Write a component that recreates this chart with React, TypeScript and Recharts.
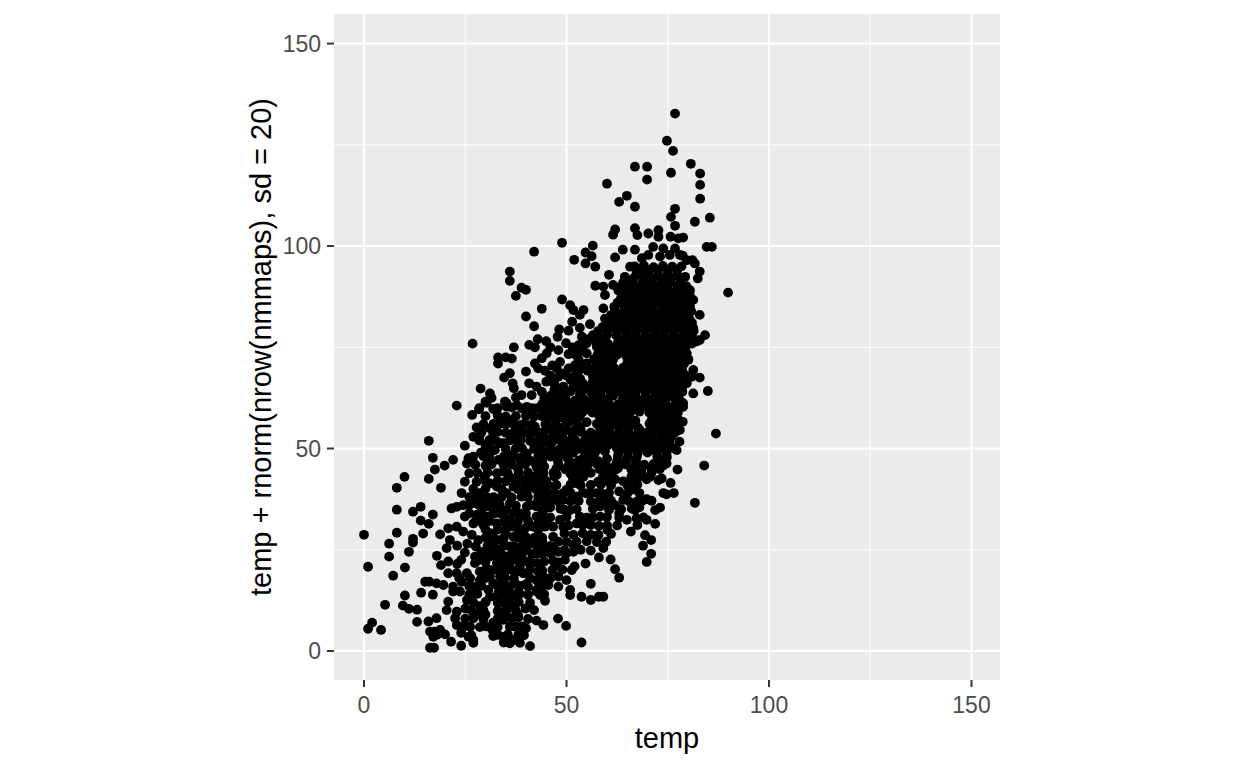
import React from 'react';
import {
  ScatterChart,
  Scatter,
  XAxis,
  YAxis,
  CartesianGrid,
} from 'recharts';

type Pair = [number, number];

const majorTicks = [0, 50, 100, 150];
const minorTicks = [25, 75, 125];

// as [temp, value], left tail first
const leftTail: Pair[] = [
  [22.9,60.6],[16,51.9],[24.9,50.7],[17,47.7],[22,47.2],[19.9,45.8],[17.5,44.8],[16,42.5],[10,43],[8.1,40.3],
  [19,40.3],[8.1,34.9],[12.1,34.4],[14,35.6],[17,33.7],[14,32.2],[16,31.4],[8.1,29.2],[0,28.7],[14.6,29],
  [12.1,27.7],[12.1,26.8],[6.2,26.5],[11.1,24.5],[6.2,23.3],[18,23.5],[1,20.8],[10.1,20.6],[7.2,18.6],[14.1,14.4],
  [10.1,13.7],[17,13.9],[5.2,11.4],[9.6,11.2],[11.1,10.4],[13.1,10.2],[13.1,7.2],[2,7],[1,5.5],[4.2,5.2],
  [16.3,0.8],[17.3,0.8],[21.5,2.3],[24,1.3],[17.5,4.8],
];

const lowerLeft: Pair[] = [
  [18.8,28.8],[20.8,30.3],[22.9,30.7],[24.5,29.5],[26.6,28.7],[28.2,27.4],[21.2,27.4],[20.4,25.4],[24.9,24.3],[27.6,25.8],
  [27.4,23.3],[27.4,21.7],[20.8,22.1],[19,21.2],[20.8,19.2],[22.9,19.2],[25.4,19.2],[16.1,17.1],[15.1,17.1],[17.9,16.7],
  [19.6,16.3],[22,15.9],[24.1,17.1],[26.2,18],[28.6,19.6],[31.1,18.4],[32.8,16.3],[30.7,15.1],[28.6,17.5],[27,15.9],
  [23.7,14.7],[22,14.7],[25.4,12.6],[25,10.5],[20.8,12.2],[20.4,10.1],[22.9,9.7],[22.5,8.1],[22.9,6.4],[17.9,8.1],
  [15.9,7.3],[16.3,4.8],[18.8,5.2],[17.1,3.5],[26.2,6],[28.6,5.9],[25.8,3.5],[27,2.7],[31.9,7],[34.4,7.7],
  [36,6],[38.1,8.3],[39.9,10.5],[40,5.6],[42.6,7.5],[41,1.2],[31.9,3.7],[34.4,3.5],[36.9,2.7],[38.1,4],
  [28.6,11.1],[31.1,13.4],[34.4,11.8],[36.9,12.6],[35.2,15.1],[37.3,16.7],[39.3,19.2],[33.6,18.4],[36.5,20],[32.8,21.7],
  [31.1,23.3],[35.2,23.3],[37.7,22.5],[40.2,25],[41,26.6],[42.6,21.7],[42.6,17.5],[42.6,14.7],[36.9,28.2],[33.6,27.4],
  [31.1,29.1],[29.5,31.1],[32.8,31.5],[36.9,30.7],[39.3,29.9],[41.8,30.7],[32,25.8],[33.6,25],[36,25.8],[38.1,25],
  [34.4,21.7],[36,21.7],[38.5,20.8],[31.1,20],[31.9,16.7],[34.4,16.7],[36,14.2],[36.9,11],[35.2,10.1],[32.8,13.4],
];

const leftBlob: Pair[] = [
  [27,36.5],[28.6,39],[31.1,41.4],[30.3,35.7],[32.8,37.3],[35.2,39],[36.9,40.6],[33.6,34],[27.8,33.6],[24.9,33.2],
  [21.6,35.2],[22.9,35.6],[24.1,39],[24.9,41.8],[27.8,41.8],[32.8,43.9],[34.4,44.3],[36.9,42.6],[30,45.8],[25.8,47.6],
  [25.4,46.3],[26,43.9],[28.9,49],[32.3,49.6],[33.6,51.3],[36,48.4],[33.2,47.2],[38.5,47.2],[40.2,48.8],[42.6,45.5],
  [39.3,42.2],[41.8,41.4],[38.9,38.1],[42.6,35.7],[38.5,34],[35.2,34.8],[42.6,33.2],[27,52.9],[28.6,53.3],[31.1,55],
  [27.8,55.2],[31.9,53.8],[33.6,56.2],[36,57],[38.5,55.8],[40.2,53.8],[37.7,52.1],[34.4,51.3],[41.8,51.3],[42.2,55.4],
  [40.6,59.5],[37.7,60.7],[35.2,60.3],[34.8,61.6],[30,61.6],[32.1,59.7],[28.4,59.7],[26.7,58.3],[29.5,37.3],[31.9,34.8],
  [36,36.5],[32.8,40.6],[30.3,33.2],[39.8,33.2],[40.2,35.7],[29.8,43],[38,45],[35,46.5],[30.5,47.5],[30,51],
];

const lowerRight: Pair[] = [
  [86.9,53.7],[84,45.8],[81.7,36.6],[53.7,2.1],[49.9,6.2],[47.9,8],[44.3,6.4],[44.7,12.4],[43.5,13.8],[42.6,15.1],
  [50.9,15.1],[50.9,13.8],[53.7,13.4],[56,12.6],[58,13.4],[59.1,13.4],[56,16.6],[54.7,21.6],[63,18.1],[62,20.2],
  [60.9,22.6],[58,23.1],[56,24.8],[69.8,22],[70.9,24],[68.9,26],[70.9,27.4],[69.4,28.6],[65.9,29.5],[71.9,31.4],
  [69.8,32.4],[67.3,32.8],[64.9,32.4],[66.1,35.2],[66.9,34.8],[71.9,34.8],[73.1,35.4],[68.7,37.1],[69.8,37.5],[73.9,39],
  [76.5,39],[74.7,38.7],[75.7,41.5],[73.5,42.6],[72.7,42.2],[69.8,42.4],[62,42.4],[63,39.4],[66.1,39.8],[66.5,42.2],
  [77.4,44.8],[74.7,46.3],[77.2,49.6],[77.9,51.7],[78.7,56.6],[78,54.6],[78.8,60.3],[62,36],[64,37.3],[59.9,36.5],
  [58.3,33.2],[58.3,35.7],[56,31.1],[60.1,29.9],[59.8,27],[56,28.7],[57.9,28.7],[59.1,25.4],[51.7,28.7],[51.7,26.2],
  [51.7,24.5],[53.3,33.2],[52.5,31.5],[49.6,22.5],[46.7,22.3],[48,24.5],[48,27],[46.7,28.2],[43.5,21.4],[43,19.6],
  [51.3,20],[50,17.5],[48,18.4],[48,15.9],[45.5,16.3],[44.3,18.4],[43,17.1],[44.3,25],[39.8,30.3],[43,31.5],
  [45.1,32.4],[48.4,32.4],[49.2,37.3],[47.6,38.1],[43.5,39],[41,40.6],[40.2,39],[42.6,36.5],[52.5,41.4],[54.2,43],
  [50.9,43.9],[47.6,43.5],[44.3,43.9],[41.8,43],[55,38.9],[52.5,38.1],[57.5,39],[59.1,38.1],[50.9,34.8],[44.7,30.7],
  [49.2,30.7],[46.7,30.7],[45.9,25.8],[50,24.1],
];

const upperLeft: Pair[] = [
  [48.9,100.8],[56.5,100.1],[42,98.6],[54.7,98.4],[56.2,97.5],[51.9,96.6],[54.7,95.7],[57.1,94.9],[36,93.7],[36,91.4],
  [38.9,89.7],[40,89.2],[37.5,87.7],[57.1,90.2],[48.9,86.8],[50.9,85.4],[51.7,84.2],[54.2,84.2],[53.3,83],[43.9,84.5],
  [40,82.6],[51.4,81.3],[42,80.2],[48.2,79.4],[50.5,79.1],[53.3,79.8],[55.8,80.7],[47.8,77.6],[49.9,76],[53.8,77.6],
  [57,77.6],[42.9,77],[40.8,75.6],[42.2,75],[26.8,75.9],[37,75],[48,74.3],[50.5,73.3],[45.1,73.5],[43.9,72.3],
  [42.2,71],[33.1,72.5],[35,72.5],[36.5,72.2],[33.1,71],[48.4,71.4],[52.1,70.6],[47.6,69.8],[50.5,69.8],[44.7,69.2],
  [43,69.8],[40,69],[36,68.6],[34.6,67.5],[55,73.5],[55,71],[57.5,75.1],[57.5,71],[48,67.7],[36.7,66.1],
  [37,64.9],[40.8,66.1],[45,66.5],[42.6,65.3],[43.9,64],[28.8,64.8],[31.1,63.6],[31.5,62.5],[30.3,61.3],[41.4,63.2],
  [38.9,63.2],[37.5,62.6],[35.2,61.2],[28.5,60],[31.9,59.8],[40.2,60.3],[45.1,61.6],[48.8,60.7],[49.2,65.3],[51.7,65.3],
  [51.7,66.9],[56.6,66.9],[50,63.6],[53.3,63.2],[56.6,62.8],
];

const upperRight: Pair[] = [
  [76.8,132.7],[74.8,126],[76.3,123.5],[80.7,120.3],[66.9,119.6],[69.9,119.6],[83,117.9],[75.8,118.1],[69.9,116.4],[83,115.1],
  [60,115.4],[64.9,112.4],[63,110.9],[83,111.7],[66.9,109.7],[76.8,109.2],[75.8,107.2],[85.4,107],[81.7,106],[76.8,105],
  [62,104.1],[61.5,102.8],[66.9,104.4],[67.5,102.7],[70.2,103.1],[72.7,103.9],[72.7,102.3],[75.7,102.3],[77.6,101.9],[78.8,102.1],
  [84.6,99.8],[85.9,99.8],[63.9,99.1],[66.9,99.1],[62,97.2],[71.4,99.8],[73.9,99.4],[76.8,99.4],[70.2,97.8],[73.1,97.4],
  [75.5,97.8],[78.7,97.6],[81.1,96.5],[68.6,97],[89.9,88.5],[82.9,83],[84.9,64.2],[82.9,67.5],[81.3,69.4],[80.9,67.7],
  [81.7,95.7],[82.9,93.7],[82.4,92],[79.7,96.5],[78,97.8],[60.5,92.9],[59.1,90],[59.5,87.9],[61.5,90.4],[65.7,94.9],
  [67.3,93.3],[64.4,92.4],[59.1,84.6],[59.5,82.1],[62,81.7],[81.3,86.7],[80.5,89.1],[79.3,92.4],[79.7,82.5],[81.3,79.7],
  [84.2,78],[82.9,76.8],[82.1,76.4],[79.7,73.5],[80.1,71.9],[78,70.2],[79.7,66.1],[81.3,63.6],[78.8,61.2],
];

const coreHigh: Pair[] = [
  [66.8,95],[69.1,95.2],[71.5,94.8],[73.8,95.1],[76.1,94.9],[78.4,95],
  [68,93],[70.3,93.2],[72.6,92.8],[75,93.1],[77.3,92.9],
  [64,91],[66.3,91.2],[68.7,90.8],[71,91.1],[73.4,90.9],[75.7,91.2],[78,90.8],
  [62.8,89],[65.2,89.2],[67.5,88.8],[69.9,89.1],[72.2,88.9],[74.5,89.2],[76.9,88.8],[79.2,89],
  [63.4,87],[65.8,87.2],[68.1,86.8],[70.4,87.1],[72.8,86.9],[75.1,87.2],[77.5,86.8],[79.8,87],
  [61.8,85],[64.2,85.2],[66.5,84.8],[68.9,85.1],[71.2,84.9],[73.6,85.2],[75.9,84.8],[78.2,85],[80.5,85.1],
  [61,83],[63.3,83.2],[65.7,82.8],[68,83.1],[70.4,82.9],[72.7,83.2],[75,82.8],[77.4,83],
  [60.3,81],[62.6,81.2],[65,80.8],[67.3,81.1],[69.6,80.9],[72,81.2],[74.3,80.8],[76.7,81],[79,81.1],[81,81],
  [57.8,79],[60.1,79.2],[62.5,78.8],[64.8,79.1],[67.2,78.9],[69.5,79.2],[71.8,78.8],[74.2,79],[76.5,79.1],[78.9,78.9],[81.4,79],
  [55.5,77],[59,77.2],[63.7,76.8],[66,77.1],[68.4,76.9],[70.7,77.2],[73.1,76.8],[75.4,77],[77.7,77.1],[80,76.9],
];

const coreMid: Pair[] = [
  [54,75],[58.7,75.2],[61.1,74.8],[63.4,75.1],[65.8,74.9],[68.1,75.2],[70.4,74.8],[72.8,75],[75.1,75.1],[77.5,74.9],[79.4,75],
  [52.4,73],[57.7,73.2],[60,72.8],[62.4,73.1],[64.7,72.9],[67.1,73.2],[69.4,72.8],[71.7,73],[74.1,73.1],[76.4,72.9],[78.7,73],
  [53.5,71],[58.3,71.2],[60.7,70.8],[65,71.1],[67.4,70.9],[69.7,71.2],[72,70.8],[74.4,71],[76.7,71.1],[79,70.9],
  [52.9,69],[55.2,69.2],[57.5,68.8],[59.9,69.1],[62.2,68.9],[64.6,69.2],[66.9,68.8],[69.3,69],[71.6,69.1],[74,68.9],[76.3,69],[78.6,69.2],
  [51,67],[53.4,67.2],[58.1,66.8],[60.5,67.1],[62.8,66.9],[65.1,67.2],[67.5,66.8],[69.8,67],[72.2,67.1],[74.5,66.9],[76.8,67],[79.1,67.2],
  [52.6,65],[55,65.2],[57.4,64.8],[59.7,65.1],[62,64.9],[67.7,65.2],[69.1,64.8],[71.4,65],[73.8,65.1],[76.1,64.9],[78.5,65],
  [47.4,62],[49.8,62.2],[52.1,61.8],[54.4,62.1],[56.8,61.9],[59.1,62.2],[61.5,63],[63.8,62],[66.2,62.1],[68.5,61.9],[70.8,62],[73.2,62.2],[75.5,62.8],[77.9,62],
  [42.8,60],[45.1,60.2],[47.5,59.8],[49.8,60.1],[52.2,59.9],[54.5,60.2],[56.8,59.8],[59.2,60],[61.5,60.1],[63.9,59.9],[66.2,60],[68.5,60.2],[70.9,59.8],[73.2,60],[75.6,60.1],[77.5,59.9],
  [43.9,58],[46.3,58.2],[48.6,57.8],[51,58.1],[53.3,57.9],[58,58.2],[60.3,57.8],[62.7,58],[65,58.1],[72,58],[74.4,58.2],[76.7,57.8],
];

const coreLow: Pair[] = [
  [44.8,56],[47.2,56.2],[52.8,55.8],[57.5,56.1],[59.9,55.9],[62.2,56.2],[64.6,55.8],[66.9,56],[70.5,56.1],[72.8,55.9],[75.2,56],[77.4,56.2],
  [44.2,54],[46.6,54.2],[48.9,53.8],[53.6,54.1],[56,53.9],[58.3,54.2],[60.6,53.8],[63,54],[65.3,54.1],[67.7,53.9],[70,54],[72.3,54.2],[74.7,53.8],[76.9,54],
  [45,52],[47.4,52.2],[49.8,51.8],[52.1,52.1],[54.5,51.9],[56.8,52.2],[59.2,51.8],[61.5,52],[63.8,52.1],[66.2,51.9],[68.5,52],[70.9,52.2],[73.2,51.8],[75.5,52],
  [43.6,50],[46,50.2],[48.3,49.8],[50.7,50.1],[53,49.9],[55.4,50.2],[57.7,49.8],[60,50.7],[62.4,50.1],[64.7,49.9],[67.1,50],[69.4,50.2],[71.7,49.8],[74.1,50],[76.5,50.1],
  [43.2,48],[47.8,48.2],[50.1,47.8],[56,48.1],[62.7,48.2],[65.1,47.8],[67.4,48],[72.4,48.1],[74.8,47.9],
  [42.5,46],[48,46.2],[50.5,45.8],[52.8,46.1],[55.2,45.9],[57.5,46.2],[59.8,45.8],[62.2,46],[64.5,46.1],[66.9,45.9],[69.2,46],[71.5,46.2],[73.9,45.8],
  [46.8,44],[52.4,44.2],[54,43.8],[60.2,44.1],[62,44.7],[66.3,44.2],[68.6,43.8],[71,44],
  [45,42],[52,42.2],[57.8,41.8],[60,42.1],[64,41.9],
];

// second pass over the dense cloud, between the marks above
const coreFillHigh: Pair[] = [
  [68,94],[70.3,94.1],[72.6,93.9],[75,94],[77.3,94.1],
  [66.5,92],[68.9,92.1],[71.2,91.9],[73.6,92],[75.9,92.1],[78.2,91.9],
  [63.4,90],[65.7,90.1],[68,89.9],[70.4,90],[72.7,90.1],[75,89.9],[77.4,90],[79.6,90.1],
  [64,88],[66.3,88.1],[68.7,87.9],[71,88],[73.4,88.1],[75.7,87.9],[78,88],[80.4,88.1],
  [62.6,86],[65,86.1],[67.3,85.9],[69.7,86],[72,86.1],[74.3,85.9],[76.7,86],[79,86.1],
  [62,84],[64.5,84.1],[66.9,83.9],[69.2,84],[71.5,84.1],[73.9,83.9],[76.2,84],[78.6,84.1],[80.8,83.9],
  [61.7,82],[64,82.1],[66.4,81.9],[68.7,82],[71,82.1],[73.4,81.9],[75.7,82],[78.1,82.1],[80.4,81.9],
  [58.9,80],[61.3,80.1],[63.6,79.9],[66,80],[68.3,80.1],[70.7,79.9],[73,80],[75.4,80.1],[77.7,79.9],[80,80],
  [56.5,78],[60,78.1],[62.3,77.9],[64.7,78],[67,78.1],[69.4,77.9],[71.7,78],[74,78.1],[76.4,77.9],[78.7,78],[81,78.1],
  [55,76],[57.4,76.1],[60.2,75.9],[62.6,76],[64.9,76.1],[67.2,75.9],[69.6,76],[71.9,76.1],[74.3,75.9],[76.6,76],[78.9,76.1],[81,75.9],
  [53.4,74],[58.2,74.1],[60.5,73.9],[62.9,74],[65.2,74.1],[67.6,73.9],[69.9,74],[72.3,74.1],[74.6,73.9],[76.9,74],[79.2,74.1],
  [53,72],[56.8,72.1],[59.2,71.9],[61.5,72],[66,72.1],[68.3,71.9],[70.6,72],[73,72.1],[75.3,71.9],[77.7,72],[80,72.1],
];

const coreFillMid: Pair[] = [
  [52.2,70],[54.5,70.1],[56.9,69.9],[59.2,70],[61.6,70.1],[63.9,69.9],[66.2,70],[68.6,70.1],[70.9,69.9],[73.3,70],[75.6,70.1],[77.9,69.9],
  [50,68],[52.2,68.1],[56.5,67.9],[58.8,68],[61.2,68.1],[63.5,67.9],[65.9,68],[68.2,68.1],[70.6,67.9],[72.9,68],[75.3,68.1],[77.6,67.9],[79.5,68],
  [47,66],[54,66.1],[56.2,65.9],[58.6,66],[60.9,66.1],[63.3,65.9],[66.7,66],[68,66.1],[70.3,65.9],[72.7,66],[75,66.1],[77.3,65.9],[79,66],
  [48,64],[51,64.1],[53.7,63.9],[56,64],[58.4,64.1],[60.8,63.9],[63.1,64],[67,64.1],[69.4,63.9],[71.7,64],[74,64.1],[76.4,63.9],[78.6,64],
  [46,63],[48,63.1],[58.5,62.9],[61,63.2],[65,63],[67,63.1],[69.5,62.9],[72,63],[74.5,63.1],[77,62.9],
  [44,61],[46.3,61.1],[48.7,60.9],[51,61],[53.3,61.1],[55.7,60.9],[58,61],[60.4,61.1],[62.7,60.9],[65.1,61],[67.4,61.1],[69.7,60.9],[72.1,61],[74.4,61.1],[76.8,60.9],[78.5,61],
  [44.7,59],[47,59.1],[49.3,58.9],[51.7,59],[54,59.1],[56.4,58.9],[58.7,59],[61.1,59.1],[63.4,58.9],[65.8,59],[68,59.1],[70.4,58.9],[72.8,59],[75.1,59.1],[77.5,58.9],
  [45,57],[47.5,57.1],[49.8,56.9],[52,57],[58.5,57.1],[61,56.9],[63.3,57],[65.7,57.1],[67,56.9],[71,57],[73.3,57.1],[75.7,56.9],[77.8,57],
];

const coreFillLow: Pair[] = [
  [45.5,55],[48.5,55.1],[53.5,54.9],[58.3,55],[60.7,55.1],[63,54.9],[65.4,55],[67.7,55.1],[71.2,54.9],[73.6,55],[76,55.1],
  [44.5,53],[46.8,53.1],[49,52.9],[51.5,53],[54.8,53.1],[57.2,52.9],[59.5,53],[61.8,53.1],[64.2,52.9],[66.5,53],[68.9,53.1],[71.2,52.9],[73.6,53],[76,53.1],
  [43.8,51],[46.2,51.1],[49,50.9],[51.4,51],[53.8,51.1],[56.1,50.9],[58.4,51],[60.8,51.1],[63.1,50.9],[65.5,51],[67.8,51.1],[70.2,50.9],[72.5,51],[74.8,51.1],
  [44.5,49],[47,49.1],[49.3,48.9],[51.7,49],[54.6,49.1],[57,48.9],[62.9,49],[65.2,49.1],[67.6,48.9],[70,49],[72.3,49.1],[74.7,48.9],
  [44,47],[47.8,47.1],[50.7,46.9],[53,47],[55.5,47.1],[57.8,46.9],[62.5,47],[64.8,47.1],[67.2,46.9],[72.5,47],[74.5,47.1],
  [43,45],[47.5,45.1],[49.7,44.9],[52,45],[54.2,45.1],[58.2,44.9],[60.6,45],[62.7,45.1],[66,44.9],[68.5,45],[70.9,45.1],[73,44.9],
  [43,43],[47,43.1],[51.5,42.9],[53,43],[59,43.1],[61,42.9],[66,43],[68,43.1],[70.5,42.9],
  [40,41],[43,41.1],[45.5,40.9],[47.5,41],[51,41.1],[53.5,40.9],[56,41],[58.5,41.1],[61,40.9],[65,41],[67.5,41.1],
  [45,39],[47,39.1],[49,38.9],[51,39],[54,39.1],[56,38.9],[58.5,39],[60.5,39.1],[65,38.9],[68,39],
  [44.5,37],[46,37.1],[48,36.9],[51,37],[53,37.1],[56,36.9],[58,37],[61,37.1],[65.5,36.9],[67.5,37],[71,37.1],
  [44.5,35],[48.5,35.1],[49.5,34.9],[52.5,35],[56.5,35.1],[60.5,34.9],[63.5,35],
  [46,33],[50,33.1],[55,32.9],[56.5,33],[60,33.1],[63,32.9],[69,33],
  [50.5,31],[54,31.1],[58,30.9],[60,31],[67.5,31.1],[49.5,29],[54,29.1],[61,28.9],
  [42,27],[44,27.1],[50,26.9],[52.5,27],[55,27.1],[57.5,26.9],[43,25],[47,25.1],[49.5,24.9],[53.5,25],
  [47.5,21],[52,20.9],
];

const blobFill: Pair[] = [
  [33,60],[36.5,60.1],[39,59.9],[41.5,60],[30,58],[33,58.1],[35,57.9],[37.5,58],[40,58.1],[42,57.9],
  [29.5,56],[32,56.1],[35,55.9],[37,56],[39.5,56.1],[41.5,55.9],[29,54],[33,54.1],[35,53.9],[37,54],[39,54.1],[41.5,53.9],[43,54],
  [28.5,52],[31,52.1],[32.5,51.9],[36,52],[38.7,52.1],[41,51.9],[43,52],[30,50],[31,50.1],[35,49.9],[37.5,50],[39,50.1],[42,49.9],
  [27,48],[29.5,48.1],[31,47.9],[34.5,48],[37,48.1],[39,47.9],[43,48],[27.5,46],[31.5,46.1],[34.5,45.9],[36.5,46],[39.8,46.1],
  [28,44],[30.5,44.1],[35.5,43.9],[38.2,44],[40.5,44.1],[43,43.9],[30,42],[33,42.1],[35,41.9],[38,42],[40.5,42.1],
  [27,40],[30,40.1],[34,39.9],[38,40],[40,40.1],[42.5,39.9],[44.5,40],[26,38],[27.5,38.1],[30.5,37.9],[32,38],[34,38.1],[36.5,37.9],[40.5,38],[43,38.1],
  [24.5,36],[26,36.1],[28.5,35.9],[31.5,36],[33.5,36.1],[37.5,35.9],[41,36],[44,36.1],[26,34],[29,34.1],[32,33.9],[34.5,34],[37,34.1],[40,33.9],[44,34],
  [27.5,32],[31,32.1],[34.5,31.9],[38,32],[40.5,32.1],[43.5,31.9],[35,30],[38,30.1],[43,29.9],
];

const lowFill: Pair[] = [
  [30,28],[32,28.1],[34.5,27.9],[38,28],[40,28.1],[42,27.9],[44,28],[30.5,26],[34.8,26.1],[37,25.9],[39,26],[42.5,26.1],[46,25.9],
  [29.5,24],[32,24.1],[34,23.9],[36.5,24],[39,24.1],[41.5,23.9],[44,24],[46,24.1],[30,22],[33.5,22.1],[38.5,21.9],[40.5,22],[44.5,22.1],[48,21.9],
  [30,20],[32.5,20.1],[35,19.9],[38,20],[41,20.1],[44,19.9],[46.5,20],[49,20.1],[30,18],[34.8,18.1],[37,17.9],[41,18],[44.5,18.1],[46,17.9],
  [26,16],[29,16.1],[34,15.9],[36,16],[38.5,16.1],[40.5,15.9],[44,16],[26,14],[28,14.1],[33.5,13.9],[35,14],[38.5,14.1],[40.5,13.9],[44.5,14],
  [27,12],[30,12.1],[33,11.9],[35.5,12],[38.2,12.1],[41,11.9],[26.5,10],[29.5,10.1],[33,9.9],[37.5,10],[42,10.1],
  [25,8],[27,8.1],[29.5,7.9],[33,8],[36.5,8.1],[40.5,7.9],[24.5,6],[30,6.1],[33,5.9],[37.5,6],[39,6.1],
  [18,4],[20,4.1],[26.5,3.9],[33,4],[35.5,4.1],[39.5,3.9],[27,2],[34.5,2.1],[36,1.9],[38.5,2],
];

// marks for the gaps still open after comparing with the picture
const gapFill: Pair[] = [
  [55.8,59.5],[52,54.6],[60.7,52.5],[64.4,64.4],[66,63.5],[68.1,54.6],[58.3,45.9],[48.4,52.5],[41,55.8],[37.3,52.5],
  [63,65.5],[65.5,65.5],[63.5,67.5],[59,55],[55,56.5],[50.5,56.5],[50,54.5],[46,48],[41,47],[44.5,45.5],
  [60,47.5],[59.5,49.3],[54,47.5],[56,44],[46,68],[49,68.5],[46.5,70.5],[47,64.5],[44.5,62.5],[53,75.5],
  [51.5,75],[46,75],[45,76.5],[29,32],[30,30],[33,30],[31.5,27],[36,32.5],[35,29],[39.5,28],
  [43,24],[30.5,25],[33,23],[37,23.5],[37.5,19.5],[33,20.3],[28.5,22.5],[29,24.5],[24,22.5],[23,26],
  [25.5,26.5],[23,21.5],[27,31.5],[39,23],[41,22],[40,16.5],[38,14.5],[33.2,14.5],[30,12],[26.5,13.8],
  [23.5,18],[30,9],[35,9],[38,9],[28,9],[31.5,5.5],[24,4.5],[36,31],[40.5,43],[44.5,41],
  [46,35.5],[50,39.8],[62.5,31],[63,34],[68,35.5],
];

const points = [
  ...leftTail, ...lowerLeft, ...leftBlob, ...lowerRight,
  ...upperLeft, ...upperRight, ...coreHigh, ...coreMid, ...coreLow,
  ...coreFillHigh, ...coreFillMid, ...coreFillLow, ...blobFill, ...lowFill, ...gapFill,
].map(([temp, value]) => ({ temp, value }));

const tickStyle = { fontFamily: 'Liberation Sans', fontSize: 23, fill: '#4D4D4D' };
const titleStyle = { fontFamily: 'Liberation Sans', fontSize: 29, fill: '#000000' };

function Dot({ cx, cy }: any) {
  return <circle cx={cx} cy={cy} r={4.9} fill="#000000" />;
}

export default function App() {
  return (
    <div style={{ position: 'absolute', left: 0, top: 0, width: 1248, height: 768, background: '#fff' }}>
      <ScatterChart width={1248} height={768} margin={{ top: 14, right: 248, bottom: 0, left: 0 }}>
        <CartesianGrid
          fill="#EBEBEB"
          stroke="#FFFFFF"
          strokeWidth={1}
          horizontalValues={minorTicks}
          verticalValues={minorTicks}
        />
        <CartesianGrid
          stroke="#FFFFFF"
          strokeWidth={2}
          horizontalValues={majorTicks}
          verticalValues={majorTicks}
        />
        <XAxis
          type="number"
          dataKey="temp"
          domain={[-7.41, 157.04]}
          ticks={majorTicks}
          allowDataOverflow
          height={88}
          tick={tickStyle}
          tickSize={7}
          tickMargin={10}
          tickLine={{ stroke: '#333333', strokeWidth: 2 }}
          axisLine={false}
          label={{ value: 'temp', position: 'insideBottom', offset: 20, style: titleStyle }}
        />
        <YAxis
          type="number"
          dataKey="value"
          domain={[-7.16, 157.3]}
          ticks={majorTicks}
          allowDataOverflow
          width={334}
          tick={tickStyle}
          tickSize={7}
          tickMargin={6}
          tickLine={{ stroke: '#333333', strokeWidth: 2 }}
          axisLine={false}
          label={{
            value: 'temp + rnorm(nrow(nmmaps), sd = 20)',
            angle: -90,
            position: 'center',
            dx: 94,
            style: titleStyle,
          }}
        />
        <Scatter data={points} shape={<Dot />} isAnimationActive={false} />
      </ScatterChart>
    </div>
  );
}
